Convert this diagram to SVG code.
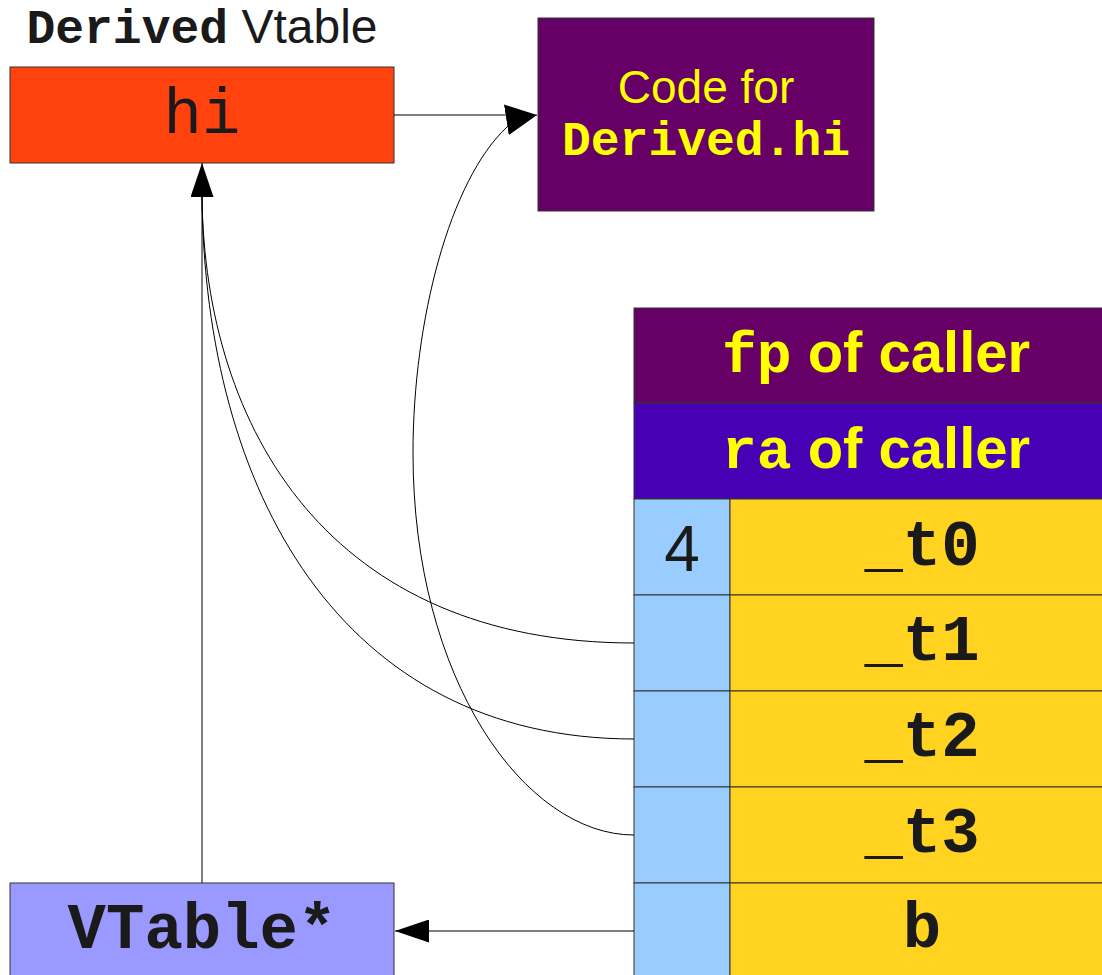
<svg xmlns="http://www.w3.org/2000/svg" width="1102" height="975" viewBox="0 0 1102 975">
  <style>
    .box { stroke: #333333; stroke-width: 1; }
    .mono { font-family: "Liberation Mono", "DejaVu Sans Mono", monospace; }
    .sans { font-family: "Liberation Sans", Arial, sans-serif; }
    .dark { fill: #1a1a1a; }
    .yel { fill: #ffff00; }
    .conn { fill: none; stroke: #000000; stroke-width: 1; }
  </style>
  <defs>
    <marker id="arrowA" markerUnits="userSpaceOnUse" markerWidth="34" markerHeight="23" refX="34" refY="11.5" orient="auto">
      <path d="M0,0 L34,11.5 L0,23 z" fill="#000"/>
    </marker>
    <marker id="arrowB" markerUnits="userSpaceOnUse" markerWidth="31" markerHeight="31" refX="31" refY="15.5" orient="auto">
      <path d="M0,0 L31,15.5 L0,31 z" fill="#000"/>
    </marker>
  </defs>
  <rect width="1102" height="975" fill="#ffffff"/>

  <g id="vtable-title">
    <text x="202" y="43" text-anchor="middle" font-size="48"><tspan class="mono dark" font-weight="bold">Derived</tspan><tspan class="sans dark"> Vtable</tspan></text>
  </g>

  <g id="vtable-hi">
    <rect class="box" x="10" y="67" width="384" height="96" fill="#ff420e"/>
    <text class="mono dark" x="202" y="133" text-anchor="middle" font-size="64">hi</text>
  </g>

  <g id="code-derived-hi">
    <rect class="box" x="538" y="18" width="336" height="193" fill="#660066"/>
    <text class="sans yel" x="706" y="103" text-anchor="middle" font-size="46">Code for</text>
    <text class="mono yel" x="706" y="155" text-anchor="middle" font-size="48" font-weight="bold">Derived.hi</text>
  </g>

  <g id="stack-fp">
    <rect class="box" x="634" y="308" width="482" height="95" fill="#660066"/>
    <text x="876" y="372" text-anchor="middle" font-size="58" font-weight="bold"><tspan class="mono yel">fp</tspan><tspan class="sans yel"> of caller</tspan></text>
  </g>

  <g id="stack-ra">
    <rect class="box" x="634" y="403" width="482" height="96" fill="#4700b4"/>
    <text x="876" y="468" text-anchor="middle" font-size="58" font-weight="bold"><tspan class="mono yel">ra</tspan><tspan class="sans yel"> of caller</tspan></text>
  </g>

  <g id="stack-t0">
    <rect class="box" x="634" y="499" width="96" height="96" fill="#99ccff"/>
    <rect class="box" x="730" y="499" width="386" height="96" fill="#ffd320"/>
    <text class="sans dark" x="682" y="571" text-anchor="middle" font-size="64">4</text>
    <text class="mono dark" x="922" y="565" text-anchor="middle" font-size="64" font-weight="bold">_t0</text>
  </g>

  <g id="stack-t1">
    <rect class="box" x="634" y="595" width="96" height="96" fill="#99ccff"/>
    <rect class="box" x="730" y="595" width="386" height="96" fill="#ffd320"/>
    <text class="mono dark" x="922" y="660" text-anchor="middle" font-size="64" font-weight="bold">_t1</text>
  </g>

  <g id="stack-t2">
    <rect class="box" x="634" y="691" width="96" height="96" fill="#99ccff"/>
    <rect class="box" x="730" y="691" width="386" height="96" fill="#ffd320"/>
    <text class="mono dark" x="922" y="756" text-anchor="middle" font-size="64" font-weight="bold">_t2</text>
  </g>

  <g id="stack-t3">
    <rect class="box" x="634" y="787" width="96" height="96" fill="#99ccff"/>
    <rect class="box" x="730" y="787" width="386" height="96" fill="#ffd320"/>
    <text class="mono dark" x="922" y="852" text-anchor="middle" font-size="64" font-weight="bold">_t3</text>
  </g>

  <g id="stack-b">
    <rect class="box" x="634" y="883" width="96" height="96" fill="#99ccff"/>
    <rect class="box" x="730" y="883" width="386" height="96" fill="#ffd320"/>
    <text class="mono dark" x="922" y="947" text-anchor="middle" font-size="64" font-weight="bold">b</text>
  </g>

  <g id="vtable-ptr">
    <rect class="box" x="10" y="883" width="384" height="100" fill="#9999ff"/>
    <text class="mono dark" x="202" y="948" text-anchor="middle" font-size="64" font-weight="bold">VTable*</text>
  </g>

  <g id="connectors">
    <path class="conn" d="M394,115 L520,115"/>
    <path class="conn" d="M202,883 L202,163" marker-end="url(#arrowA)"/>
    <path class="conn" d="M634,643 C330,643 205,430 202,197"/>
    <path class="conn" d="M634,739 C340,739 205,490 202,197"/>
    <path class="conn" d="M634,835 C525,835 413,680 413,453 C413,320 450,180 507,127 Q521,117.5 537,115" marker-end="url(#arrowB)"/>
    <path class="conn" d="M634,931 L395,931" marker-end="url(#arrowA)"/>
  </g>
</svg>
